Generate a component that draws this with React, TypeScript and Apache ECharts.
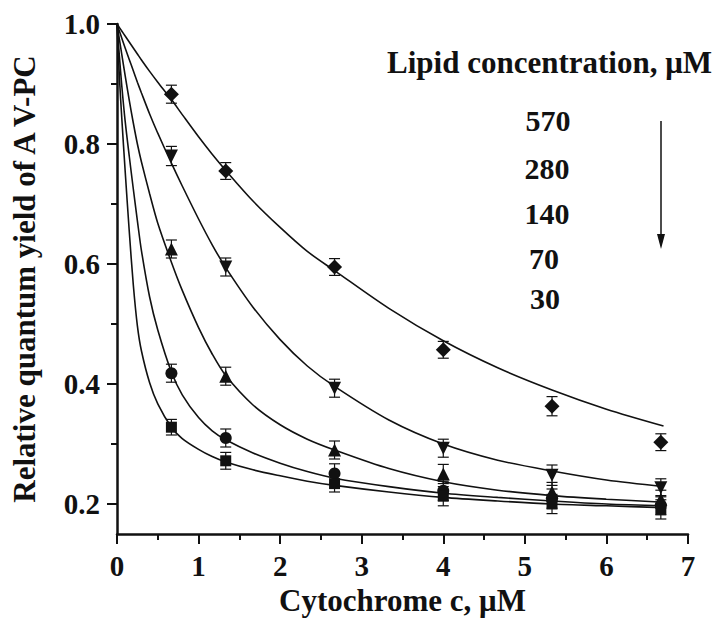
import React, { useEffect, useRef } from "react";
import * as echarts from "echarts";

// measured points (Cytochrome c, µM)
const xPoints = [0.667, 1.333, 2.667, 4.0, 5.333, 6.667];
const lipidLabels = ["570", "280", "140", "70", "30"];
const y570 = [0.883, 0.755, 0.595, 0.457, 0.363, 0.303];
const y280 = [0.780, 0.595, 0.393, 0.293, 0.248, 0.227];
const y140 = [0.625, 0.413, 0.290, 0.250, 0.220, 0.208];
const y70 = [0.418, 0.310, 0.251, 0.222, 0.209, 0.198];
const y30 = [0.328, 0.272, 0.234, 0.213, 0.200, 0.191];
const e570 = [0.015, 0.014, 0.014, 0.014, 0.016, 0.014];
const e280 = [0.016, 0.015, 0.015, 0.015, 0.017, 0.015];
const e140 = [0.015, 0.015, 0.015, 0.016, 0.016, 0.015];
const e70 = [0.015, 0.015, 0.016, 0.016, 0.016, 0.016];
const e30 = [0.013, 0.014, 0.014, 0.016, 0.016, 0.016];

// fitted curves
const curveX = [0, 0.03, 0.06, 0.1, 0.15, 0.2, 0.25, 0.3, 0.4, 0.5, 0.667, 0.8, 1.0, 1.167, 1.333, 1.667, 2.0, 2.333, 2.667, 3.333, 4.0, 4.667, 5.333, 6.0, 6.7];
const fit570 = [1.0, 0.994, 0.988, 0.98, 0.97, 0.96, 0.95, 0.94, 0.921, 0.903, 0.874, 0.849, 0.812, 0.783, 0.756, 0.705, 0.661, 0.621, 0.589, 0.526, 0.472, 0.427, 0.39, 0.358, 0.33];
const fit280 = [1.0, 0.988, 0.976, 0.96, 0.941, 0.922, 0.903, 0.885, 0.85, 0.818, 0.768, 0.73, 0.675, 0.632, 0.594, 0.528, 0.474, 0.43, 0.396, 0.34, 0.30, 0.273, 0.255, 0.24, 0.229];
const fit140 = [1.0, 0.974, 0.948, 0.914, 0.873, 0.835, 0.80, 0.77, 0.717, 0.668, 0.603, 0.556, 0.494, 0.45, 0.414, 0.365, 0.332, 0.308, 0.29, 0.259, 0.237, 0.223, 0.214, 0.208, 0.203];
const fit70 = [1.0, 0.945, 0.895, 0.838, 0.78, 0.725, 0.672, 0.622, 0.545, 0.49, 0.42, 0.382, 0.344, 0.322, 0.307, 0.285, 0.268, 0.254, 0.243, 0.229, 0.218, 0.211, 0.205, 0.2, 0.197];
const fit30 = [1.0, 0.91, 0.84, 0.755, 0.655, 0.565, 0.497, 0.455, 0.402, 0.367, 0.328, 0.309, 0.291, 0.279, 0.27, 0.257, 0.247, 0.238, 0.231, 0.22, 0.211, 0.205, 0.2, 0.197, 0.194];

const yMajor = [0.2, 0.4, 0.6, 0.8, 1.0];
const yMinor = [0.3, 0.5, 0.7, 0.9];

const FONT = "'Liberation Serif', 'Times New Roman', serif";
const INK = "#111";

function errSeries(ys: number[], es: number[]) {
  return {
    type: "custom",
    silent: true,
    z: 2,
    encode: { x: 0, y: [1, 2] },
    data: xPoints.map((x, i) => [x, ys[i] - es[i], ys[i] + es[i]]),
    renderItem: (params: any, api: any) => {
      const x = api.value(0);
      const lo = api.coord([x, api.value(1)]);
      const hi = api.coord([x, api.value(2)]);
      const w = 5.5;
      const style = { stroke: INK, lineWidth: 1.2 };
      return {
        type: "group",
        children: [
          { type: "line", shape: { x1: lo[0], y1: lo[1], x2: hi[0], y2: hi[1] }, style },
          { type: "line", shape: { x1: lo[0] - w, y1: lo[1], x2: lo[0] + w, y2: lo[1] }, style },
          { type: "line", shape: { x1: hi[0] - w, y1: hi[1], x2: hi[0] + w, y2: hi[1] }, style },
        ],
      };
    },
  };
}

function fitSeries(ys: number[]) {
  return {
    type: "line",
    data: curveX.map((x, i) => [x, ys[i]]),
    showSymbol: false,
    symbol: "none",
    smooth: 0.3,
    lineStyle: { color: INK, width: 1.6 },
    z: 1,
    silent: true,
  };
}

function pointSeries(ys: number[], symbol: string, size: number, rotate = 0) {
  return {
    type: "scatter",
    data: xPoints.map((x, i) => [x, ys[i]]),
    symbol,
    symbolSize: size,
    symbolRotate: rotate,
    itemStyle: { color: INK, opacity: 1 },
    z: 3,
    silent: true,
  };
}

export default function App() {
  const ref = useRef<HTMLDivElement>(null);
  useEffect(() => {
    if (!ref.current) return;
    const chart = echarts.init(ref.current, null, { renderer: "svg" });
    const labelY = [120, 168, 213, 258, 298];
    const labelX = [548, 547, 547, 544, 545];
    chart.setOption({
      animation: false,
      backgroundColor: "#fff",
      grid: { left: 117, right: 30, top: 24, bottom: 83, containLabel: false },
      xAxis: {
        type: "value",
        min: 0,
        max: 7,
        interval: 1,
        name: "Cytochrome c, \u03bcM",
        nameLocation: "middle",
        nameGap: 51,
        nameTextStyle: { fontFamily: FONT, fontWeight: "bold", fontSize: 31, color: INK },
        axisLine: { show: true, onZero: false, lineStyle: { color: INK, width: 2.5 } },
        axisTick: { show: true, inside: false, length: 10, lineStyle: { color: INK, width: 2 } },
        minorTick: { show: true, splitNumber: 2, length: 6, lineStyle: { color: INK, width: 2 } },
        splitLine: { show: false },
        minorSplitLine: { show: false },
        axisLabel: { margin: 17, fontFamily: FONT, fontWeight: "bold", fontSize: 29, color: INK },
      },
      yAxis: [
        {
          type: "value",
          min: 0.15,
          max: 1.0,
          position: "left",
          name: "Relative quantum yield of A V-PC",
          nameLocation: "middle",
          nameGap: 77,
          nameTextStyle: { fontFamily: FONT, fontWeight: "bold", fontSize: 31, color: INK },
          axisLine: { show: true, onZero: false, lineStyle: { color: INK, width: 2.5 } },
          axisTick: { show: true, inside: false, length: 10, customValues: yMajor, lineStyle: { color: INK, width: 2 } },
          axisLabel: {
            customValues: yMajor,
            margin: 17,
            formatter: (v: number) => v.toFixed(1),
            fontFamily: FONT,
            fontWeight: "bold",
            fontSize: 29,
            color: INK,
          },
          splitLine: { show: false },
        },
        {
          type: "value",
          min: 0.15,
          max: 1.0,
          position: "left",
          offset: 0,
          axisLine: { show: false },
          axisTick: { show: true, inside: false, length: 6, customValues: yMinor, lineStyle: { color: INK, width: 2 } },
          axisLabel: { show: false },
          splitLine: { show: false },
        },
      ],
      series: [
        fitSeries(fit570),
        fitSeries(fit280),
        fitSeries(fit140),
        fitSeries(fit70),
        fitSeries(fit30),
        errSeries(y570, e570),
        errSeries(y280, e280),
        errSeries(y140, e140),
        errSeries(y70, e70),
        errSeries(y30, e30),
        pointSeries(y570, "diamond", 15),
        pointSeries(y280, "triangle", 13, 180),
        pointSeries(y140, "triangle", 13),
        pointSeries(y70, "circle", 12),
        pointSeries(y30, "rect", 11),
      ],
      graphic: [
        {
          type: "text",
          x: 387,
          y: 62,
          style: {
            text: "Lipid concentration, \u03bcM",
            font: `bold 31px ${FONT}`,
            fill: INK,
            textAlign: "left",
            textVerticalAlign: "middle",
          },
        },
        ...lipidLabels.map((t, i) => ({
          type: "text",
          x: labelX[i],
          y: labelY[i],
          style: {
            text: t,
            font: `bold 30px ${FONT}`,
            fill: INK,
            textAlign: "center",
            textVerticalAlign: "middle",
          },
        })),
        {
          type: "line",
          shape: { x1: 661, y1: 121, x2: 661, y2: 238 },
          style: { stroke: INK, lineWidth: 1.5 },
        },
        {
          type: "polygon",
          shape: { points: [[657, 234], [665, 234], [661, 249]] },
          style: { fill: INK },
        },
      ],
    });
    return () => chart.dispose();
  }, []);
  return <div ref={ref} style={{ width: 718, height: 621, position: "absolute", left: 0, top: 0 }} />;
}
